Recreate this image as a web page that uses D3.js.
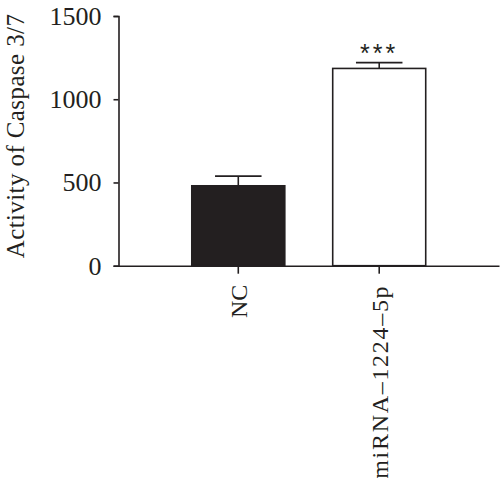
<!DOCTYPE html>
<html>
<head>
<meta charset="utf-8">
<script src="https://cdnjs.cloudflare.com/ajax/libs/d3/7.8.5/d3.min.js"></script>
<style>
  body { margin: 0; background: #fff; }
  text { font-family: "Liberation Serif", "Times New Roman", serif; fill: #231f20; }
</style>
</head>
<body>
<svg width="500" height="478"></svg>
<script>
// data
var groups = ['NC', 'miRNA\u20131224\u20135p'];
var means = [480, 1185];
var errors = [58, 35];
var fills = ['#231f20', '#ffffff'];
var signif = ['', '***'];
var yticks = [0, 500, 1000, 1500];
var ytitle = 'Activity of Caspase 3/7';

var svg = d3.select('svg');
var ink = '#231f20';

var axisX = 118.5;
var y = d3.scaleLinear().domain([0, 1500]).range([265.7, 16]);
var x = d3.scaleBand()
  .domain(groups)
  .range([axisX, 499])
  .paddingInner(0.34)
  .paddingOuter(0.52);

var data = groups.map(function(g, i) {
  return {name: g, mean: means[i], err: errors[i], fill: fills[i], star: signif[i]};
});

// bars
svg.append('g').selectAll('rect')
  .data(data).enter().append('rect')
    .attr('x', function(d) { return x(d.name); })
    .attr('y', function(d) { return y(d.mean); })
    .attr('width', x.bandwidth())
    .attr('height', function(d) { return y(0) - y(d.mean); })
    .attr('fill', function(d) { return d.fill; })
    .attr('stroke', ink)
    .attr('stroke-width', 1.6);

// error bars (upper only)
var eb = svg.append('g').attr('stroke', ink).attr('stroke-width', 1.6);
data.forEach(function(d) {
  var cx = x(d.name) + x.bandwidth() / 2;
  var half = x.bandwidth() / 4;
  eb.append('line').attr('x1', cx).attr('x2', cx)
    .attr('y1', y(d.mean)).attr('y2', y(d.mean + d.err));
  eb.append('line').attr('x1', cx - half).attr('x2', cx + half)
    .attr('y1', y(d.mean + d.err)).attr('y2', y(d.mean + d.err));
});

// significance stars
svg.append('g').selectAll('text')
  .data(data).enter().append('text')
    .attr('x', function(d) { return x(d.name) + x.bandwidth() / 2; })
    .attr('y', function(d) { return y(d.mean + d.err) - 1; })
    .attr('text-anchor', 'middle')
    .style('font-family', '"Liberation Sans", Arial, sans-serif')
    .style('font-size', '25px')
    .style('letter-spacing', '3px')
    .text(function(d) { return d.star; });

// y axis
var gy = svg.append('g')
  .attr('transform', 'translate(' + axisX + ',0)')
  .call(d3.axisLeft(y).tickValues(yticks).tickSize(5).tickPadding(12).tickFormat(d3.format('d')));
gy.select('.domain').attr('stroke', ink).attr('stroke-width', 1.6);
gy.selectAll('.tick line').attr('stroke', ink).attr('stroke-width', 1.6);
gy.selectAll('.tick text').style('font-size', '26px').attr('font-family', null);

// x axis
var gx = svg.append('g')
  .attr('transform', 'translate(0,' + y(0) + ')')
  .call(d3.axisBottom(x).tickSize(8).tickSizeOuter(0));
gx.select('.domain').attr('stroke', ink).attr('stroke-width', 1.6);
gx.selectAll('.tick line').attr('stroke', ink).attr('stroke-width', 1.6);
gx.selectAll('.tick text')
  .attr('font-family', null)
  .style('font-size', '24px')
  .attr('text-anchor', 'end')
  .attr('transform', 'translate(0,1) rotate(-90)')
  .attr('x', -18)
  .attr('y', 0)
  .attr('dy', '0.35em')
  .style('letter-spacing', function(d, i) { return i === 1 ? '1.7px' : '0px'; });

// y title
svg.append('text')
  .attr('transform', 'translate(24,136) rotate(-90)')
  .attr('text-anchor', 'middle')
  .style('font-size', '25px')
  .style('letter-spacing', '0.4px')
  .text(ytitle);
</script>
</body>
</html>
